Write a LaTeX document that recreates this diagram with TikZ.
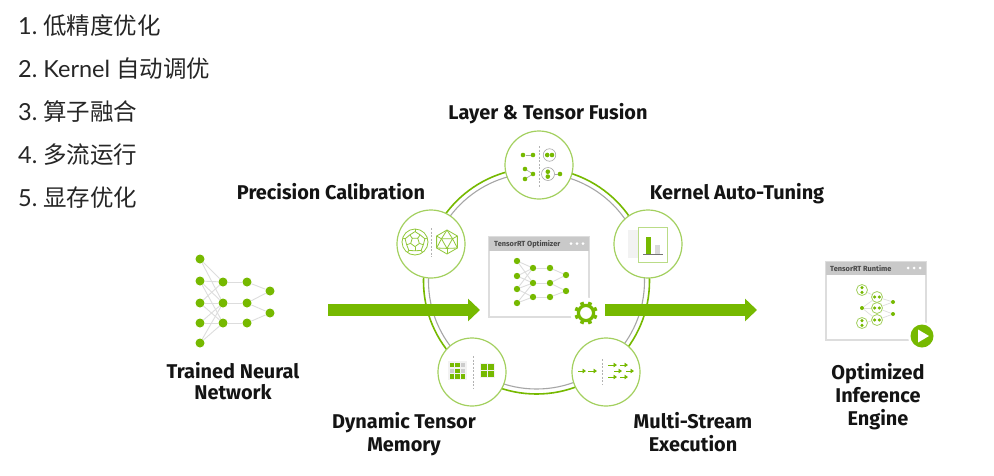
\documentclass[tikz,border=0pt]{standalone}
\usepackage{fontspec}
\setmainfont{Fira Sans}
\newfontfamily\listfont{Lato}
\newfontfamily\cjk{Noto Sans CJK SC}
\usetikzlibrary{arrows.meta}
\definecolor{nvgreen}{HTML}{76B900}
\definecolor{ringgreen}{HTML}{A3D05F}
\definecolor{edgegray}{HTML}{DDDDDD}
\definecolor{headgray}{HTML}{C9C9C9}
\tikzset{
  x=1pt,y=-1pt,
  listitem/.style={anchor=west,inner sep=0pt,text=black!85,font=\fontsize{23.5}{27}\selectfont\listfont},
  biglabel/.style={align=center,inner sep=0pt,text=black!92,font=\fontsize{19.9}{23}\selectfont\bfseries},
  dotbig/.style={circle,fill=nvgreen,draw=none,minimum size=9pt,inner sep=0pt},
  dotmid/.style={circle,fill=nvgreen,draw=none,minimum size=6.4pt,inner sep=0pt},
  dotsm/.style={circle,fill=nvgreen,draw=none,minimum size=4.6pt,inner sep=0pt},
  dottiny/.style={circle,fill=nvgreen,draw=none,minimum size=3.4pt,inner sep=0pt},
  netedge/.style={draw=edgegray,line width=0.9pt},
  iconlink/.style={draw=black!35,line width=0.6pt},
  halo/.style={circle,draw=ringgreen,fill=white,line width=0.8pt,minimum size=13pt,inner sep=0pt},
  badge/.style={circle,draw=ringgreen,fill=white,line width=1.2pt,minimum size=68pt,inner sep=0pt},
  divider/.style={draw=black!30,line width=0.6pt,dash pattern=on 2pt off 1.5pt},
  winbox/.style={rectangle,draw=edgegray,fill=white,line width=1.2pt,inner sep=0pt},
  winhead/.style={rectangle,fill=headgray,inner sep=0pt},
  wintext/.style={inner sep=0pt,anchor=west,text=black!72,font=\fontsize{7.4}{8}\selectfont\bfseries},
  windot/.style={circle,fill=white,minimum size=3pt,inner sep=0pt},
  flow/.style={draw=nvgreen,line width=12pt,-{Triangle[length=12pt,width=22pt]}},
  mini/.style={draw=nvgreen,line width=1pt,-{Triangle[length=3.5pt,width=4.5pt]}},
  wire/.style={draw=ringgreen!60!nvgreen,line width=0.8pt,line join=round},
  cellg/.style={rectangle,fill=nvgreen,inner sep=0pt},
  cellk/.style={rectangle,fill=black!20,inner sep=0pt},
}
\begin{document}
\begin{tikzpicture}
\useasboundingbox (0,0) rectangle (994,475);
\fill[white] (0,0) rectangle (994,475);

% list
\node[listitem] (l1) at (18,25.5) {1.\hspace{-2pt} {\cjk 低精度优化}};
\node[listitem] (l2) at (18,68.5) {2.\hspace{-2pt} Kernel {\cjk 自动调优}};
\node[listitem] (l3) at (18,111.5) {3.\hspace{-2pt} {\cjk 算子融合}};
\node[listitem] (l4) at (18,154.5) {4.\hspace{-2pt} {\cjk 多流运行}};
\node[listitem] (l5) at (18,197.5) {5.\hspace{-2pt} {\cjk 显存优化}};

% labels
\node[biglabel] (lbA) at (548,113.5) {Layer \& Tensor Fusion};
\node[biglabel] (lbB) at (331,192) {Precision Calibration};
\node[biglabel] (lbC) at (737,193.5) {Kernel Auto-Tuning};
\node[biglabel] (lbD) at (233,381) {Trained Neural\\[-1.5pt]Network};
\node[biglabel] (lbE) at (404,434) {Dynamic Tensor\\Memory};
\node[biglabel] (lbF) at (693,432.5) {Multi-Stream\\Execution};
\node[biglabel] (lbG) at (878,396.5) {Optimized\\Inference\\Engine};

% trained network
\foreach \n/\x/\y in {a1/200/259,a2/200/281,a3/200/303,a4/200/323,a5/200/343,
                      b1/223/282,b2/223/303,b3/223/323,
                      c1/247/282,c2/247/303,c3/247/323,
                      d1/270/291,d2/270/313}
  \node[dotbig] (t\n) at (\x,\y) {};
\foreach \p/\q in {a1/b1,a1/b2,a2/b1,a2/b2,a3/b1,a3/b2,a3/b3,a4/b2,a4/b3,a5/b2,a5/b3,a2/b3,
                   b1/c1,b2/c2,b3/c3,c1/d1,c2/d1,c2/d2,c3/d2}
  \draw[netedge] (t\p) -- (t\q);

% ring
\coordinate (ringc) at (536.5,281);
\draw[draw=nvgreen,line width=1.6pt] (ringc) circle[radius=113];
\draw[draw=black!35,line width=1.1pt] (ringc) circle[radius=108];

% badges
\node[badge] (bTop) at (539,165) {};
\node[badge] (bLeft) at (431,244) {};
\node[badge] (bRight) at (648,244) {};
\node[badge] (bDL) at (472,372) {};
\node[badge] (bDR) at (606,372) {};

% top icon
\coordinate (dvT1) at (539,146); \coordinate (dvT2) at (539,187);
\draw[divider] (dvT1) -- (dvT2);
\node[dotsm] (f1) at (523,155) {};
\node[dotsm] (f2) at (533,155) {};
\draw[iconlink] (f1) -- (f2);
\node[circle,draw=black!35,line width=0.6pt,minimum size=12.5pt,inner sep=0pt] (f3) at (549.5,155) {};
\node[dotsm] (f3a) at (547.2,155) {};
\node[dotsm] (f3b) at (552,155) {};
\node[dotsm] (f4) at (525,169) {};
\node[dotsm] (f5) at (525,179) {};
\node[dotsm] (f6) at (533,174) {};
\draw[iconlink] (f4) -- (f6);
\draw[iconlink] (f5) -- (f6);
\node[circle,draw=black!35,line width=0.6pt,minimum size=13pt,inner sep=0pt] (f7) at (548,174) {};
\node[dotsm] (f7a) at (547.8,171.7) {};
\node[dotsm] (f7b) at (547.8,176.6) {};
\node[dotsm] (f8) at (560,174) {};
\draw[iconlink] (f7) -- (f8);

% left icon
\coordinate (dvL1) at (431,228); \coordinate (dvL2) at (431,257);
\draw[divider] (dvL1) -- (dvL2);
\begin{scope}[shift={(415,242)}]
  \draw[wire] (0,0) circle[radius=13];
  \draw[wire] (90:4.6) -- (162:4.6) -- (234:4.6) -- (306:4.6) -- (18:4.6) -- cycle;
  \foreach \a in {90,162,234,306,18} {
    \draw[wire] (\a:4.6) -- (\a:8.8);
    \draw[wire] (\a:8.8) -- (\a+36:10.4) -- (\a+72:8.8);
    \draw[wire] (\a+36:10.4) -- (\a+36:13);
  }
\end{scope}
\begin{scope}[shift={(447,242)}]
  \draw[wire] (90:12) -- (150:12) -- (210:12) -- (270:12) -- (330:12) -- (30:12) -- cycle;
  \draw[wire] (90:6.4) -- (210:6.4) -- (330:6.4) -- cycle;
  \foreach \a in {90,210,330} {
    \draw[wire] (\a:6.4) -- (\a:12);
    \draw[wire] (\a:6.4) -- (\a+60:12);
    \draw[wire] (\a:6.4) -- (\a-60:12);
  }
\end{scope}

% right icon
\fill[black!5] (628,230) rectangle (640,258);
\node[rectangle,draw=ringgreen!75,fill=white,line width=0.9pt,minimum width=29pt,minimum height=35pt,inner sep=0pt] (kframe) at (652.5,244.5) {};
\fill[nvgreen] (646,237) rectangle (650.5,254);
\fill[black!15] (655,245) rectangle (659.5,254);
\draw[draw=black!55,line width=0.7pt] (643,254.5) -- (663,254.5);

% down-left icon
\fill[black!5] (448,361) rectangle (467,380);
\foreach \cx/\cy/\st in {452/365/cellg,457.5/365/cellg,463/365/cellk,
                         452/371/cellk,457.5/371/cellg,463/371/cellk,
                         452/376.5/cellg,457.5/376.5/cellg,463/376.5/cellg}
  \node[\st,minimum size=4.4pt] at (\cx,\cy) {};
\coordinate (dvM1) at (473,356); \coordinate (dvM2) at (473,389);
\draw[divider] (dvM1) -- (dvM2);
\fill[black!5] (480,363) rectangle (495,378);
\foreach \cx/\cy in {484/367,491/367,484/374,491/374}
  \node[cellg,minimum size=6pt] at (\cx,\cy) {};

% down-right icon
\coordinate (dvR1) at (602,359); \coordinate (dvR2) at (602,384);
\draw[divider] (dvR1) -- (dvR2);
\foreach \xa/\xb/\yy in {578/586/371,588/597/371,
                         608/617/365,620/628/365,
                         614/622/371,626/634/371,
                         608/617/377,620/628/377}
  \draw[mini] (\xa,\yy) -- (\xb,\yy);

% optimizer window
\node[winbox,minimum width=100pt,minimum height=80pt] (optwin) at (539,277) {};
\node[winhead,minimum width=100pt,minimum height=14pt] (opthead) at (539,244) {};
\node[wintext] (opttext) at (494,244) {TensorRT Optimizer};
\foreach \i/\x in {1/571,2/577,3/583}
  \node[windot] (optd\i) at (\x,243.5) {};
\foreach \n/\x/\y in {a1/517/261,a2/517/276,a3/517/289,a4/517/303,
                      b1/533/268,b2/533/283,b3/533/297,
                      c1/550/268,c2/550/283,c3/550/297,
                      d1/566/275,d2/566/291}
  \node[dotmid] (o\n) at (\x,\y) {};
\foreach \p/\q in {a1/b1,a1/b2,a2/b1,a2/b2,a3/b2,a3/b3,a4/b2,a4/b3,a3/b1,
                   b1/c1,b2/c2,b3/c3,c1/d1,c2/d1,c2/d2,c3/d2}
  \draw[netedge] (o\p) -- (o\q);

% gear
\node[circle,fill=white,minimum size=31pt,inner sep=0pt] (gearbg) at (586,313) {};
\begin{scope}[shift={(586,313)}]
  \draw[draw=nvgreen,line width=3.2pt] (0,0) circle[radius=7.6];
  \foreach \a in {0,45,...,315}
    \fill[nvgreen,rotate=\a+22.5] (8.5,-1.9) rectangle (11.6,1.9);
\end{scope}

% runtime window
\node[winbox,minimum width=100pt,minimum height=78pt] (rtwin) at (876,301) {};
\node[winhead,minimum width=100pt,minimum height=13pt] (rthead) at (876,268.5) {};
\node[wintext] (rttext) at (830,268.5) {TensorRT Runtime};
\foreach \i/\x in {1/908,2/914,3/920}
  \node[windot] (rtd\i) at (\x,268) {};
\node[halo,minimum size=11pt] (r1) at (862,290) {};
\node[halo,minimum size=11pt] (r2) at (862,323) {};
\node[dottiny,minimum size=4pt] (r3) at (862,308) {};
\node[halo,minimum size=11pt] (r4) at (877,297) {};
\node[halo,minimum size=11pt] (r5) at (877,308) {};
\node[halo,minimum size=11pt] (r6) at (877,320) {};
\node[dottiny,minimum size=4pt] (r7) at (893,302) {};
\node[dottiny,minimum size=4pt] (r8) at (893,314) {};
\foreach \p/\q in {r1/r4,r2/r6,r3/r4,r3/r5,r3/r6,r4/r7,r5/r7,r5/r8,r6/r8}
  \draw[netedge,line width=0.7pt] (\p) -- (\q);
\foreach \cx/\cy in {862/287.6,862/292.4,862/320.6,862/325.4}
  \node[dottiny] at (\cx,\cy) {};
\foreach \cx/\cy in {874.6/297,879.4/297,874.6/308,879.4/308,874.6/320,879.4/320}
  \node[dottiny] at (\cx,\cy) {};

% play button
\node[circle,fill=white,minimum size=28pt,inner sep=0pt] (playbg) at (922,336) {};
\node[circle,fill=nvgreen,minimum size=23pt,inner sep=0pt] (play) at (922,336) {};
\fill[white] (918,329.5) -- (929,336) -- (918,342.5) -- cycle;

% flow arrows
\coordinate (inS) at (328,310); \coordinate (inE) at (480,310);
\coordinate (outS) at (605,310); \coordinate (outE) at (757,310);
\draw[flow] (inS) -- (inE);
\draw[flow] (outS) -- (outE);
\end{tikzpicture}
\end{document}
